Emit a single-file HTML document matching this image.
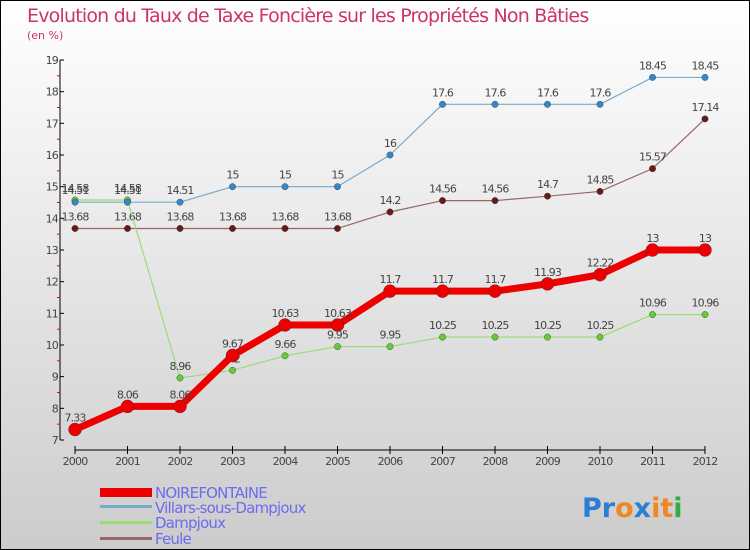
<!DOCTYPE html>
<html><head><meta charset="utf-8"><style>
body{margin:0}
#wrap{width:750px;height:550px;position:relative;overflow:hidden;font-family:"DejaVu Sans","Liberation Sans",sans-serif}
svg text{font-family:"DejaVu Sans","Liberation Sans",sans-serif}
</style></head><body>
<div id="wrap">
<svg id="c" width="750" height="550" xmlns="http://www.w3.org/2000/svg">
<defs><linearGradient id="bg" x1="0" y1="0" x2="0" y2="1"><stop offset="0" stop-color="#ffffff"/><stop offset="1" stop-color="#cccccc"/></linearGradient></defs>
<rect x="0.5" y="0.5" width="749" height="549" fill="url(#bg)" stroke="#000"/>
<text x="27" y="22" font-size="19" fill="#cc3366" letter-spacing="-0.8">Evolution du Taux de Taxe Foncière sur les Propriétés Non Bâties</text>
<text x="27" y="39" font-size="11" fill="#cc3366">(en %)</text>
<g id="axes"></g><g id="series"></g>
<g>
<rect x="100" y="488" width="52" height="9" fill="#ee0000"/>
<text x="155" y="498" font-size="15" fill="#6b6bf0" letter-spacing="-0.8">NOIREFONTAINE</text>
<rect x="100" y="505" width="52" height="3" fill="#77aacc"/>
<text x="155" y="513" font-size="15" fill="#6b6bf0" letter-spacing="-0.8">Villars-sous-Dampjoux</text>
<rect x="100" y="521" width="52" height="3" fill="#99dd77"/>
<text x="155" y="528" font-size="15" fill="#6b6bf0" letter-spacing="-0.8">Dampjoux</text>
<rect x="100" y="537" width="52" height="3" fill="#996666"/>
<text x="155" y="544" font-size="15" fill="#6b6bf0" letter-spacing="-0.8">Feule</text>
</g>
<text x="582" y="517" font-size="27" font-weight="bold"><tspan fill="#2a7fd4">Pr</tspan><tspan fill="#ee8822">o</tspan><tspan fill="#2a7fd4">x</tspan><tspan fill="#ee8822">it</tspan><tspan fill="#33aa44">i</tspan></text>
</svg></div>
<script>
const years=["2000","2001","2002","2003","2004","2005","2006","2007","2008","2009","2010","2011","2012"];
const yTicks=[7,8,9,10,11,12,13,14,15,16,17,18,19];
const noirefontaine=[7.33,8.06,8.06,9.67,10.63,10.63,11.7,11.7,11.7,11.93,12.22,13,13];
const villars=[14.51,14.51,14.51,15,15,15,16,17.6,17.6,17.6,17.6,18.45,18.45];
const dampjoux=[14.58,14.58,8.96,9.2,9.66,9.95,9.95,10.25,10.25,10.25,10.25,10.96,10.96];
const feule=[13.68,13.68,13.68,13.68,13.68,13.68,14.2,14.56,14.56,14.7,14.85,15.57,17.14];
const NS="http://www.w3.org/2000/svg";
const X=i=>75+i*(630/(years.length-1));
const Y=v=>440-(v-7)*(380/12);
function mk(t,a,p){const e=document.createElementNS(NS,t);for(const k in a)e.setAttribute(k,a[k]);p.appendChild(e);return e;}
const ax=document.getElementById('axes');
let l=mk('line',{x1:60,y1:60,x2:60,y2:440,stroke:'#000'},ax);


yTicks.forEach(v=>{
 mk('line',{x1:60,y1:Y(v),x2:64,y2:Y(v),stroke:'#000'},ax);
 if(v<19)mk('line',{x1:57,y1:Y(v+0.5),x2:60,y2:Y(v+0.5),stroke:'#e00'},ax);
 const t=mk('text',{x:58,y:Y(v)+4,'font-size':11,fill:'#444','text-anchor':'end','letter-spacing':'-0.8'},ax);
 t.textContent=v;
 
 
});
l=mk('line',{x1:75,y1:450,x2:705,y2:450,stroke:'#000'},ax);


years.forEach((y,i)=>{
 mk('line',{x1:X(i),y1:446,x2:X(i),y2:454,stroke:'#000'},ax);
 const t=mk('text',{x:X(i),y:465,'font-size':11,fill:'#444','text-anchor':'middle','letter-spacing':'-0.8'},ax);
 t.textContent=y;
 
 
});
const sg=document.getElementById('series');
function series(name,vals,color,dot,w,r){
 const g=mk('g',{},sg);
 
 
 const p=mk('polyline',{points:vals.map((v,i)=>X(i)+','+Y(v)).join(' '),fill:'none',stroke:color,'stroke-width':w,'stroke-linejoin':'round'},g);
 
 
 vals.forEach((v,i)=>{
  const c=mk('circle',{cx:X(i),cy:Y(v),r:r,fill:dot,stroke:'#333','stroke-width':0.4},g);
  
  
  const t=mk('text',{x:X(i),y:Y(v)-8,'font-size':11,fill:'#444','text-anchor':'middle','letter-spacing':'-0.9'},g);
  t.textContent=v;
  
  
 });
}
series('feule',feule,'#996666','#661a1a',1.2,3.2);
series('dampjoux',dampjoux,'#99dd77','#66cc33',1.2,3.2);
series('villars',villars,'#77aacc','#3388cc',1.2,3.2);
series('noirefontaine',noirefontaine,'#ee0000','#ee0000',7,6.5);
</script>
</body></html>
